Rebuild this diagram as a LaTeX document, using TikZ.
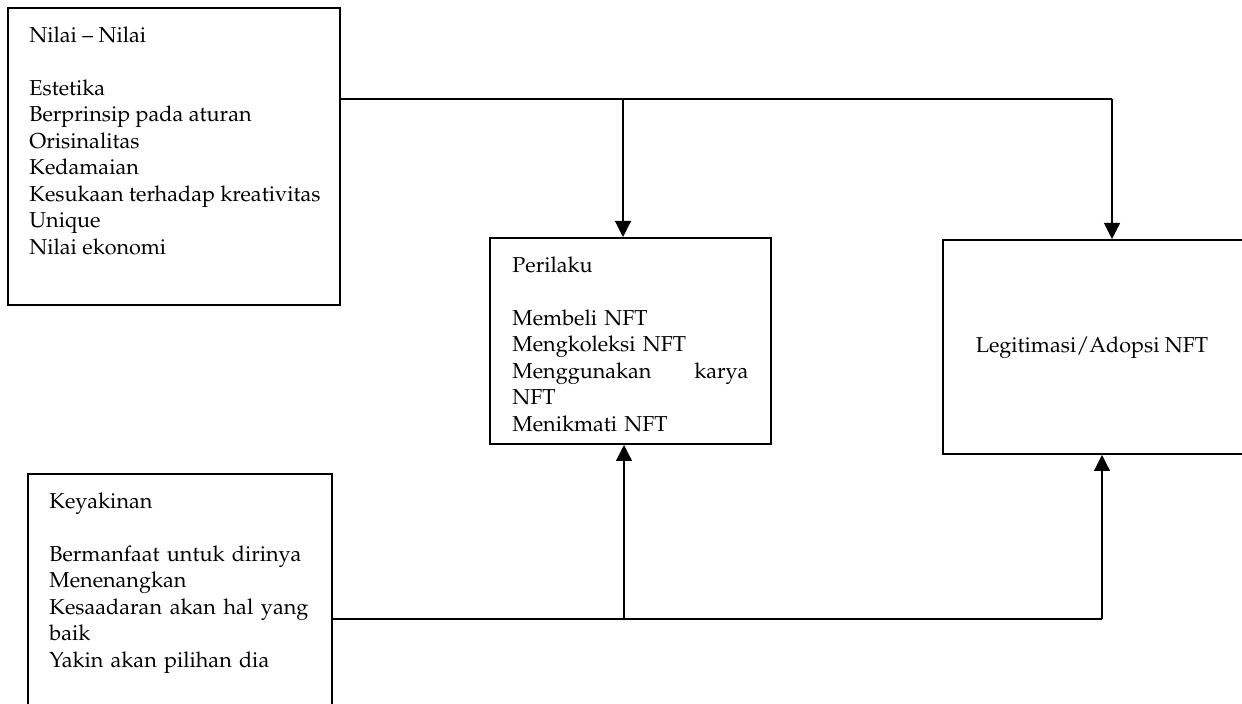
\documentclass[tikz,border=0pt]{standalone}
\usepackage[T1]{fontenc}
\usepackage{mathpazo}
\usetikzlibrary{arrows.meta}

\begin{document}
\begin{tikzpicture}[x=0.5pt, y=-0.5pt,
    box/.style={draw, line width=1pt, inner sep=0pt, anchor=north west},
    lbl/.style={inner sep=0pt, anchor=north west, align=left,
        font=\fontsize{10.8}{13.25}\selectfont},
    conn/.style={line width=0.6pt},
    arr/.style={conn, -{Triangle[length=8pt,width=8pt]}}]

    % Frame
    \clip (0,0) rectangle (1242,704);

    % Boxes
    \node[box, minimum width=166pt, minimum height=148.5pt] (nilai) at (7,7) {};
    \node[box, minimum width=140.5pt, minimum height=103pt] (perilaku) at (489,237) {};
    \node[box, minimum width=152pt, minimum height=123.5pt] (keyakinan) at (27,473) {};
    \node[box, minimum width=154pt, minimum height=107pt] (legit) at (942,239) {};

    % Texts
    \node[lbl] (nilaitxt) at ([shift={(22,19)}]nilai.north west)
        {Nilai -- Nilai\\[13.25pt]
         Estetika\\ Berprinsip pada aturan\\ Orisinalitas\\ Kedamaian\\
         Kesukaan terhadap kreativitas\\ Unique\\ Nilai ekonomi};
    \node[lbl, text width=118pt] (perilakutxt) at ([shift={(23,19)}]perilaku.north west)
        {Perilaku\\[13.25pt]
         Membeli NFT\\ Mengkoleksi NFT\\ Menggunakan\hfill karya\\ NFT\\ Menikmati NFT};
    \node[lbl, text width=129.5pt] (keyakinantxt) at ([shift={(22,19)}]keyakinan.north west)
        {Keyakinan\\[13.25pt]
         Bermanfaat untuk dirinya\\ Menenangkan\\
         Kesaadaran\hfill akan\hfill hal\hfill yang\\ baik\\ Yakin akan pilihan dia};
    \node[inner sep=0pt, anchor=base, font=\fontsize{10.8}{13.25}\selectfont] (legittxt)
        at (1092,353) {Legitimasi/Adopsi NFT};

    % Junctions
    \coordinate (toprow) at (0,99);
    \coordinate (botrow) at (0,619);
    \coordinate (jtopP) at (623,99);
    \coordinate (jtopL) at (1112,99);
    \coordinate (jbotP) at (624,619);
    \coordinate (jbotL) at (1102,619);

    % Top connectors
    \draw[conn] (nilai.east |- toprow) -- (jtopL);
    \draw[arr] (jtopP) -- (jtopP |- perilaku.north);
    \draw[arr] (jtopL) -- (jtopL |- legit.north);

    % Bottom connectors
    \draw[conn] (keyakinan.east |- botrow) -- (jbotL);
    \draw[arr] (jbotP) -- (jbotP |- perilaku.south);
    \draw[arr] (jbotL) -- (jbotL |- legit.south);

\end{tikzpicture}
\end{document}
